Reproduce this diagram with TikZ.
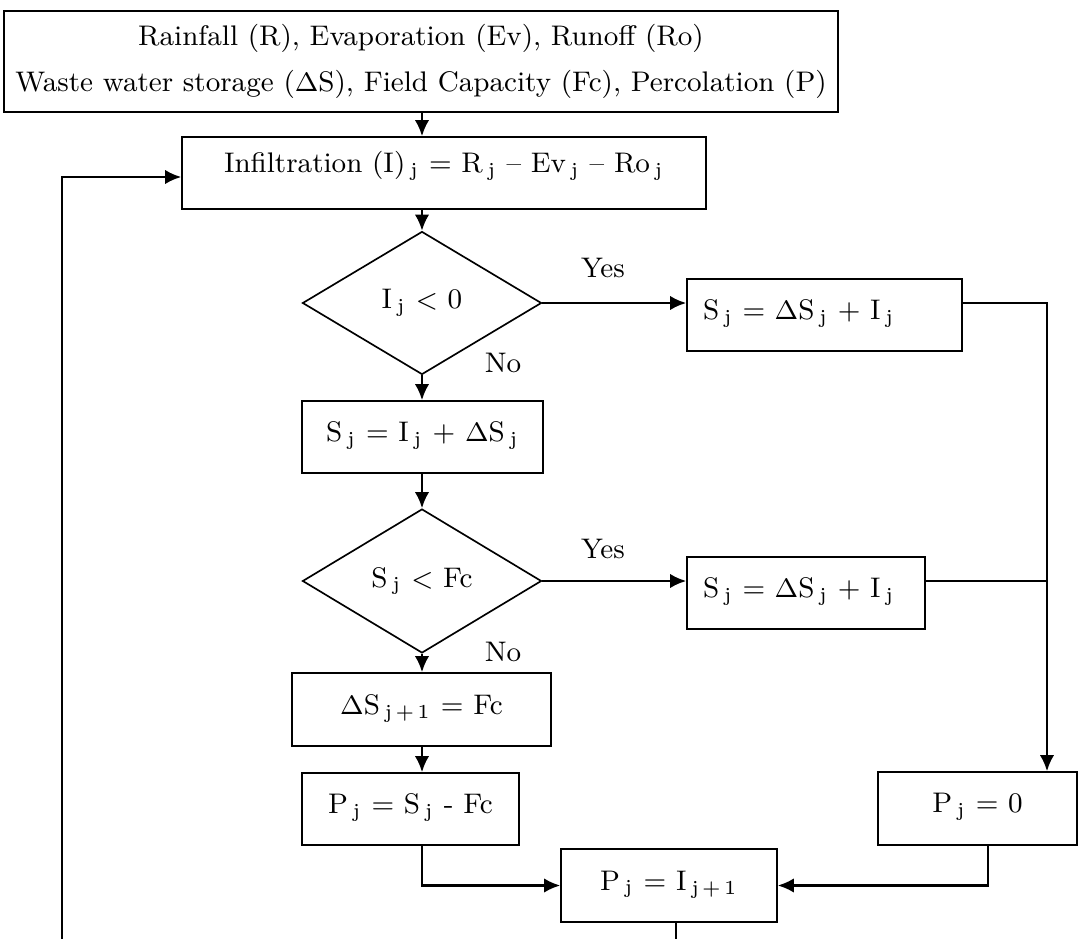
\documentclass[tikz,border=0pt]{standalone}
\usetikzlibrary{shapes.geometric,arrows.meta}
\newcommand{\sj}{\,\textsubscript{j}}
\newcommand{\sjn}{\,\textsubscript{j\,+\,1}}

\begin{document}
\begin{tikzpicture}[x=0.3pt,y=-0.3pt,
    font=\fontsize{8.5}{10}\selectfont,
    box/.style={draw, line width=0.5pt, inner sep=1pt, text height=6pt, text depth=3.3pt},
    yesbox/.style={box, inner xsep=4.8pt, align=left},
    decide/.style={draw, diamond, line width=0.5pt, inner sep=0pt,
        minimum width=71.7pt, minimum height=42.9pt},
    conn/.style={line width=0.65pt, -{Latex[length=4.8pt,width=4.3pt]}},
    wire/.style={line width=0.65pt}]
    \useasboundingbox (0,0) rectangle (1086,939);

    % Inputs and infiltration
    \node[draw, line width=0.5pt, align=center, font=\fontsize{8.5}{13.8}\selectfont,
        minimum width=247.2pt, minimum height=30.3pt] (input) at (421,61.5)
        {Rainfall (R), Evaporation (Ev), Runoff (Ro)\\
         Waste water storage ($\Delta$S), Field Capacity (Fc), Percolation (P)};
    \node[box, text depth=6.3pt, minimum width=157.2pt, minimum height=21.6pt] (infil) at (444,173)
        {Infiltration (I)\sj{} = R\sj{} -- Ev\sj{} -- Ro\sj};

    % First check
    \node[decide] (chkI) at (422,303) {I\sj{} $<$ 0};
    \node[yesbox, minimum width=82.5pt, minimum height=21.6pt, text width=72.9pt] (storeA) at (824.5,315)
        {S\sj{} = $\Delta$S\sj{} + I\sj};
    \node[box, minimum width=72.3pt, minimum height=21.6pt] (storeB) at (422.5,437)
        {S\sj{} = I\sj{} + $\Delta$S\sj};

    % Second check
    \node[decide, minimum height=43.2pt] (chkS) at (422,581) {S\sj{} $<$ Fc};
    \node[yesbox, minimum width=71.4pt, minimum height=21.6pt, text width=61.8pt] (storeC) at (806,593)
        {S\sj{} = $\Delta$S\sj{} + I\sj};
    \node[box, minimum width=77.7pt, minimum height=21.9pt] (nextS) at (421.5,709.5)
        {$\Delta$S\sjn{} = Fc};

    % Percolation
    \node[box, minimum width=65.1pt, minimum height=21.6pt] (percA) at (410.5,809)
        {P\sj{} = S\sj{} - Fc};
    \node[box, minimum width=59.7pt, minimum height=21.9pt] (percB) at (977.5,808.5)
        {P\sj{} = 0};
    \node[box, minimum width=64.8pt, minimum height=21.9pt] (percN) at (669,885.5)
        {P\sj{} = I\sjn};

    % Branch labels
    \node (yesA) at (603,268) {Yes};
    \node (noA) at (503,363) {No};
    \node (yesB) at (603,549) {Yes};
    \node (noB) at (503,652) {No};

    \coordinate (rline) at (1047,0);
    \coordinate (loopend) at (62,939);
    \coordinate (outend) at (676,939);

    % Connectors
    \draw[conn] (input.south -| chkI) -- (infil.north -| chkI);
    \draw[conn] (infil.south -| chkI) -- (chkI.north);
    \draw[conn] (chkI.east) -- (chkI.east -| storeA.west);
    \draw[conn] (chkI.south) -- (storeB.north -| chkI);
    \draw[conn] (storeB.south -| chkI) -- (chkS.north);
    \draw[conn] (chkS.east) -- (chkS.east -| storeC.west);
    \draw[conn] (chkS.south) -- (nextS.north -| chkS);
    \draw[conn] (nextS.south -| chkS) -- (percA.north -| chkS);
    \draw[conn] (chkI.east -| storeA.east) -| (rline |- percB.north);
    \draw[wire] (chkS.east -| storeC.east) -- (chkS.east -| rline);
    \draw[conn] (percA.south -| chkS) |- (percN.west);
    \draw[conn] ([xshift=3.2pt]percB.south) |- (percN.east);
    \draw[wire] (percN.south -| outend) -- (outend);
    \draw[conn] (loopend) |- ([yshift=-1.2pt]infil.west);
\end{tikzpicture}
\end{document}
